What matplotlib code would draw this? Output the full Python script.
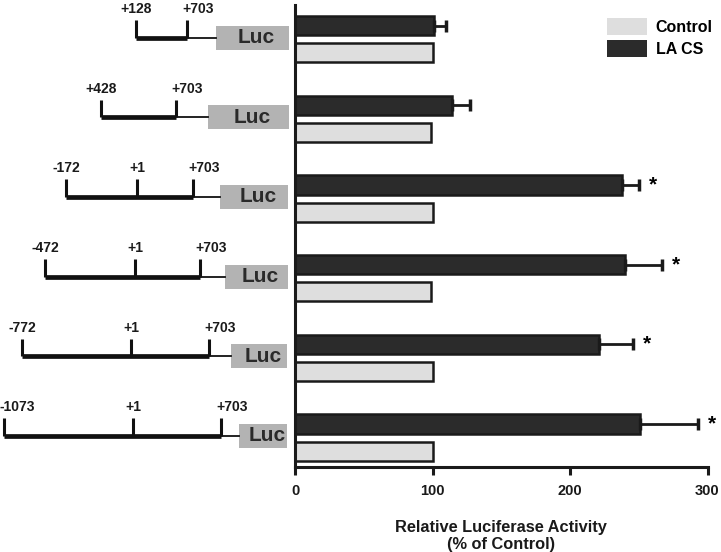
import matplotlib
matplotlib.use('Agg')
import matplotlib.pyplot as plt
from matplotlib.patches import Patch, Rectangle
import numpy as np

plt.rcParams['font.family'] = ['Liberation Sans', 'DejaVu Sans']
plt.rcParams['font.weight'] = 'bold'

# data (top row first)
control = [100, 99, 100, 99, 100, 100]
la_cs = [101, 114, 238, 240, 221, 251]
la_cs_err = [9, 13, 12, 27, 25, 42]
signif = [False, False, True, True, True, True]

# construct diagrams: site labels, drawn x position (px) of each site, Luc box span
site_labels = [['+128', '+703'],
               ['+428', '+703'],
               ['-172', '+1', '+703'],
               ['-472', '+1', '+703'],
               ['-772', '+1', '+703'],
               ['-1073', '+1', '+703']]
site_x = [[136, 187],
          [101, 176],
          [66, 137, 193],
          [45, 135, 200],
          [22, 131, 209],
          [4, 133, 221]]
luc_box = [(216, 289), (208, 289), (220, 288), (225, 288), (231, 287), (239, 287)]

dark = '#2b2b2b'
light = '#dedede'
luc_grey = '#b3b3b3'

fig = plt.figure(figsize=(7.21, 5.52), dpi=100)
fig.patch.set_facecolor('white')

W, H = 721.0, 552.0
ax = fig.add_axes([295 / W, (H - 467) / H, 412.5 / W, 462 / H])
axd = fig.add_axes([0, (H - 467) / H, 295 / W, 462 / H])

rows = np.arange(len(control))
off = 0.17
bh = 0.24

ax.barh(rows - off, la_cs, height=bh, color=dark, edgecolor='#1a1a1a', linewidth=1.8)
ax.barh(rows + off, control, height=bh, color=light, edgecolor='#1a1a1a', linewidth=1.8)
ax.errorbar(la_cs, rows - off, xerr=[np.zeros(len(la_cs)), la_cs_err], fmt='none',
            ecolor='#1a1a1a', elinewidth=2, capsize=4, capthick=2.5)
for i in rows:
    if signif[i]:
        ax.text(la_cs[i] + la_cs_err[i] + 10, i - off, '*', fontsize=15,
                ha='center', va='center', fontweight='bold')

ax.set_xlim(0, 300)
ax.set_ylim(5.37, -0.43)
ax.set_xticks([0, 100, 200, 300])
ax.tick_params(axis='x', labelsize=10.5, width=2.2, length=6, pad=6, colors='#1a1a1a')
ax.tick_params(axis='y', left=False, labelleft=False)
for lbl in ax.get_xticklabels():
    lbl.set_fontweight('bold')
for s in ['top', 'right']:
    ax.spines[s].set_visible(False)
for s in ['left', 'bottom']:
    ax.spines[s].set_linewidth(2.2)
    ax.spines[s].set_color('#1a1a1a')
ax.set_xlabel('Relative Luciferase Activity\n(% of Control)', fontsize=11.8,
              fontweight='bold', labelpad=16, color='#1a1a1a', linespacing=1.15)

handles = [Patch(facecolor=light, edgecolor='none', label='Control'),
           Patch(facecolor=dark, edgecolor='none', label='LA CS')]
leg = ax.legend(handles=handles, loc='upper left', bbox_to_anchor=(607 / W, 1 - 18 / H),
                bbox_transform=fig.transFigure, frameon=False, fontsize=11.5,
                handlelength=2.5, handleheight=1.25, handletextpad=0.55,
                labelspacing=0.32, borderpad=0, borderaxespad=0)
for t in leg.get_texts():
    t.set_fontweight('bold')

# construct diagrams on the left
axd.set_xlim(0, 295)
axd.set_ylim(5.37, -0.43)
axd.axis('off')
for i in rows:
    xs = site_x[i]
    y = i - 0.02
    axd.plot([xs[0], xs[-1]], [y, y], color='#111111', lw=3.4, solid_capstyle='butt')
    x0, x1 = luc_box[i]
    axd.plot([xs[-1], x0], [y, y], color='#111111', lw=1.3)
    for lab, x in zip(site_labels[i], xs):
        axd.plot([x, x], [y, y - 0.22], color='#111111', lw=2.2, solid_capstyle='butt')
        ha = 'left' if x < 15 else 'center'
        dx = 11 if lab == '+703' else 0
        axd.text(x + dx - (4 if ha == 'left' else 0), y - 0.36, lab, fontsize=10,
                 fontweight='bold', ha=ha, va='center', color='#1a1a1a')
    axd.add_patch(Rectangle((x0, y - 0.15), x1 - x0, 0.30, facecolor=luc_grey,
                            edgecolor='none'))
    axd.text((x0 + x1) / 2 + 4, y, 'Luc', fontsize=15, fontweight='bold',
             ha='center', va='center', color='#2a2a2a')

plt.savefig('out.png', dpi=100)
plt.close(fig)
